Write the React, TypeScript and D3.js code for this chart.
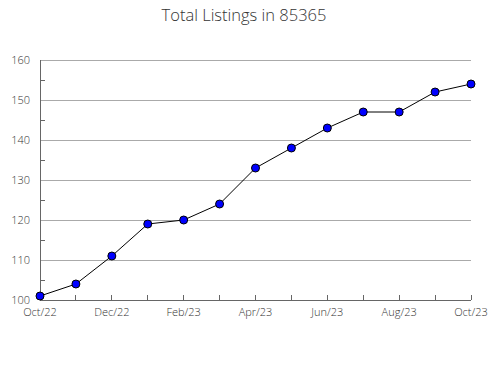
import React from "react";
import * as d3 from "d3";

const months = ["Oct/22","Nov/22","Dec/22","Jan/23","Feb/23","Mar/23","Apr/23","May/23","Jun/23","Jul/23","Aug/23","Sep/23","Oct/23"];
const values = [101, 104, 111, 119, 120, 124, 133, 138, 143, 147, 147, 152, 154];
const yMajor = [100, 110, 120, 130, 140, 150, 160];
const yMinor = [105, 115, 125, 135, 145, 155];
const title = "Total Listings in 85365";

export default function App() {
  const W = 490, H = 380;
  const left = 40, right = 471, top = 60, bottom = 300;
  const x = d3.scaleLinear().domain([0, months.length - 1]).range([left, right]);
  const y = d3.scaleLinear().domain([100, 160]).range([bottom, top]);
  const line = d3.line<number>().x((_, i) => x(i)).y(d => y(d));
  const font = "'Open Sans', sans-serif";
  return (
    <svg width={W} height={H} style={{ position: "absolute", left: 0, top: 0 }} fontFamily={font}>
      <rect width={W} height={H} fill="#fff" />
      <text x={W / 2 - 1} y={21} textAnchor="middle" fontSize={16.5} fill="#333" fontWeight={300}>{title}</text>
      {yMajor.map(v => (
        <line key={v} x1={left} x2={right} y1={y(v)} y2={y(v)} stroke="#aaa" strokeWidth={1} shapeRendering="crispEdges" />
      ))}
      {yMinor.map(v => (
        <line key={v} x1={left} x2={left + 5} y1={y(v)} y2={y(v)} stroke="#666" strokeWidth={1} shapeRendering="crispEdges" />
      ))}
      <line x1={left} x2={left} y1={top} y2={bottom} stroke="#666" shapeRendering="crispEdges" />
      <line x1={left} x2={right} y1={bottom} y2={bottom} stroke="#666" shapeRendering="crispEdges" />
      {months.map((m, i) => (
        <line key={m} x1={x(i)} x2={x(i)} y1={bottom} y2={bottom - 5} stroke="#666" shapeRendering="crispEdges" />
      ))}
      {yMajor.map(v => (
        <text key={v} x={30} y={y(v) + 4} textAnchor="end" fontSize={11} fill="#333" fontWeight={300}>{v}</text>
      ))}
      {months.map((m, i) => i % 2 === 0 ? (
        <text key={m} x={x(i)} y={316} textAnchor="middle" fontSize={11} fill="#333" fontWeight={300}>{m}</text>
      ) : null)}
      <path d={line(values) || ""} fill="none" stroke="#000" strokeWidth={1} />
      {values.map((v, i) => (
        <circle key={i} cx={x(i)} cy={y(v)} r={4} fill="#0000ff" stroke="#000" strokeWidth={1} />
      ))}
    </svg>
  );
}
